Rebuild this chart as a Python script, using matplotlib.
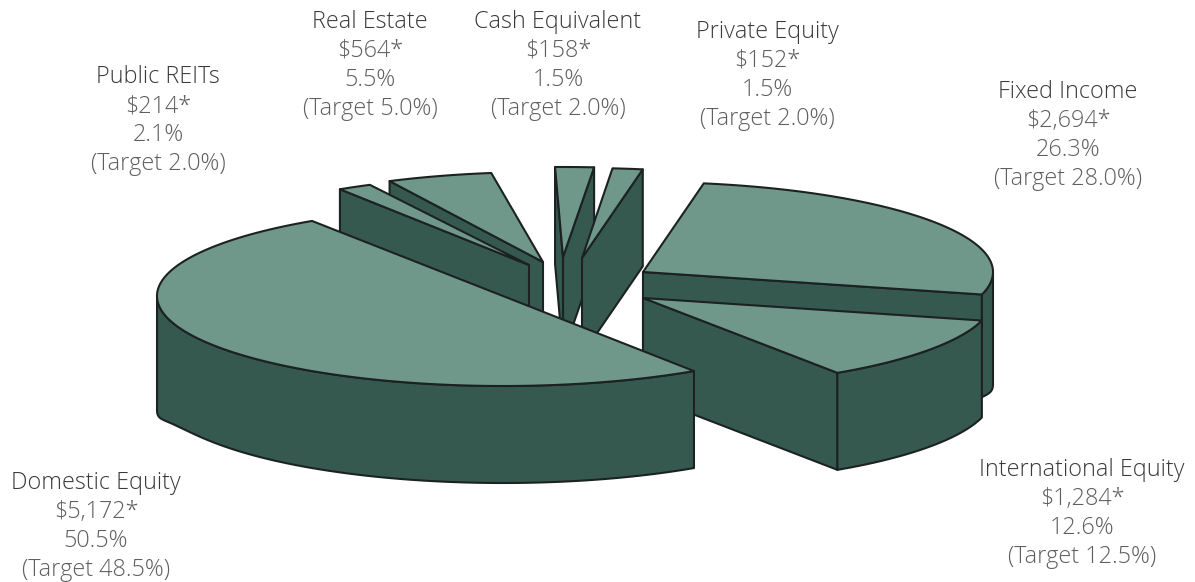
#!/usr/bin/env python
import numpy as np
import matplotlib
matplotlib.use("Agg")
import matplotlib.pyplot as plt
from matplotlib.patches import Polygon

# chart values, $ millions
names = ["Fixed Income", "International Equity", "Domestic Equity", "Public REITs",
         "Real Estate", "Cash Equivalent", "Private Equity"]
dollars = ["$2,694*", "$1,284*", "$5,172*", "$214*", "$564*", "$158*", "$152*"]
shares = [26.3, 12.6, 50.5, 2.1, 5.5, 1.5, 1.5]
targets = [28.0, 12.5, 48.5, 2.0, 5.0, 2.0, 2.0]

# the pie is a hand drawn 3d one, so each slice gets its own exploded centre
centre_x = [643, 643, 503, 529, 543, 563, 582]
centre_y = [272, 298, 296, 265, 262, 257, 258]
radius_x = [350, 350, 346, 350, 350, 350, 350]
start_angle = [80, -14.5, -56.5, 122.7, 116, 91.3, 85]
sweep_fix = [0.2, 3.6, 1.8, 1.9, 2.3, -1.0, 0.4]
bulge = [15, 0, 17, 0, 0, 0, 0]
draw_order = [4, 3, 5, 6, 0, 1, 2]

label_x = [1068, 1082, 96, 158, 370, 558, 767]
label_y = [92, 470, 483, 77, 22, 22, 32]
LINE_STEP = 29

RY = 90
DEPTH = 97
TOP = "#6f988b"
WALL = "#36594f"
EDGE = "#1c2221"
TITLE_COLOR = "#3a3a3a"
TEXT_COLOR = "#5f5f5f"
FONT_SIZE = 16.8

plt.rcParams["font.family"] = ["Open Sans", "DejaVu Sans"]

fig = plt.figure(figsize=(11.95, 5.82), dpi=100)
ax = fig.add_axes([0, 0, 1, 1])
ax.set_xlim(0, 1195)
ax.set_ylim(582, 0)
ax.axis("off")


def rim(cx, cy, rx, theta):
    t = np.radians(theta)
    return cx + rx * np.cos(t), cy - RY * np.sin(t)


def drop(theta, extra):
    return DEPTH + extra * np.abs(np.cos(np.radians(theta))) ** 30


def face(points, color):
    ax.add_patch(Polygon(points, closed=True, facecolor=color, edgecolor=EDGE,
                         linewidth=1.5, joinstyle="round"))


for i in draw_order:
    cx, cy, rx = centre_x[i], centre_y[i], radius_x[i]
    hi = start_angle[i]
    lo = hi - (shares[i] * 3.6 - sweep_fix[i])
    apex = (cx, cy)
    lo_pt = rim(cx, cy, rx, lo)
    hi_pt = rim(cx, cy, rx, hi)
    extra = bulge[i]

    # back faces are skipped, the top hides them anyway
    if np.cos(np.radians(lo)) > 0:
        d = drop(lo, extra)
        face([apex, lo_pt, (lo_pt[0], lo_pt[1] + d), (cx, cy + DEPTH)], WALL)
    if np.cos(np.radians(hi)) < 0:
        d = drop(hi, extra)
        face([apex, hi_pt, (hi_pt[0], hi_pt[1] + d), (cx, cy + DEPTH)], WALL)

    thetas = np.linspace(lo, hi, 240)
    front = thetas[np.sin(np.radians(thetas)) <= 0]
    if len(front) > 1:
        xs, ys = rim(cx, cy, rx, front)
        upper = list(zip(xs, ys))
        lower = list(zip(xs, ys + drop(front, extra)))
        face(upper + lower[::-1], WALL)

    xs, ys = rim(cx, cy, rx, thetas)
    face([apex] + list(zip(xs, ys)), TOP)

for i, name in enumerate(names):
    x, y = label_x[i], label_y[i]
    ax.text(x, y, name, ha="center", va="center", fontsize=FONT_SIZE, color=TITLE_COLOR,
            weight="light")
    rows = [dollars[i], "%.1f%%" % shares[i], "(Target %.1f%%)" % targets[i]]
    for k, row in enumerate(rows):
        ax.text(x, y + (k + 1) * LINE_STEP, row, ha="center", va="center",
                fontsize=FONT_SIZE, color=TEXT_COLOR, weight="light")

fig.savefig("out.png", dpi=100, facecolor="white")
